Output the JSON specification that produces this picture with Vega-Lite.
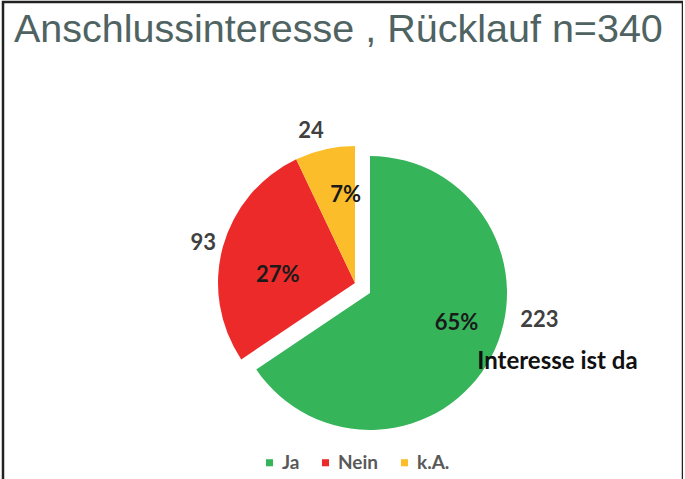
{
  "$schema": "https://vega.github.io/schema/vega-lite/v6.json",
  "autosize": {"type": "none"},
  "padding": {"left": 3, "top": 2, "right": 0, "bottom": 0},
  "width": 680,
  "height": 500,
  "background": "white",
  "title": {
    "text": "Anschlussinteresse , Rücklauf n=340",
    "anchor": "start",
    "frame": "group",
    "orient": "top",
    "font": "Liberation Sans",
    "fontSize": 39.5,
    "fontWeight": "normal",
    "color": "#4f6362",
    "baseline": "alphabetic",
    "offset": 0,
    "dx": 11,
    "dy": 81
  },
  "data": {
    "values": [
      {"Antwort": "Ja", "Anzahl": 223, "Prozent": "65%", "Kommentar": "Interesse ist da"},
      {"Antwort": "Nein", "Anzahl": 93, "Prozent": "27%", "Kommentar": ""},
      {"Antwort": "k.A.", "Anzahl": 24, "Prozent": "7%", "Kommentar": ""}
    ]
  },
  "transform": [
    {"stack": "Anzahl", "groupby": [], "as": ["start", "end"], "sort": [{"field": "Anzahl", "order": "descending"}]},
    {"calculate": "(datum.start + datum.end) / 2", "as": "mid"}
  ],
  "layer": [
    {
      "transform": [{"filter": "datum.Antwort === 'Ja'"}],
      "mark": {"type": "rect", "fill": "transparent", "stroke": "#222222", "strokeWidth": 2.5},
      "encoding": {}
    },
    {
      "transform": [{"filter": "datum.Antwort !== 'Ja'"}],
      "mark": {"type": "arc", "radius": 137, "xOffset": 12, "yOffset": 31},
      "encoding": {
        "theta": {"field": "start", "type": "quantitative", "scale": {"domain": [0, 340], "range": [0, 6.283185307179586]}},
        "theta2": {"field": "end"},
        "color": {
          "field": "Antwort", "type": "nominal",
          "scale": {"domain": ["Ja", "Nein", "k.A."], "range": ["#35b45a", "#ec2a2a", "#fbbd2a"]},
          "legend": {
            "title": null, "orient": "none", "direction": "horizontal",
            "legendX": 257, "legendY": 451,
            "symbolType": "square", "symbolSize": 50, "symbolStrokeWidth": 0,
            "labelFont": "Lato", "labelFontWeight": "bold", "labelFontSize": 19, "labelColor": "#595959",
            "labelOffset": 3, "columnPadding": 16, "padding": 0
          }
        }
      }
    },
    {
      "transform": [{"filter": "datum.Antwort === 'Ja'"}],
      "mark": {"type": "arc", "radius": 137, "xOffset": 27, "yOffset": 41},
      "encoding": {
        "theta": {"field": "start", "type": "quantitative", "scale": {"domain": [0, 340], "range": [0, 6.283185307179586]}},
        "theta2": {"field": "end"},
        "color": {"field": "Antwort", "type": "nominal", "scale": {"domain": ["Ja", "Nein", "k.A."], "range": ["#35b45a", "#ec2a2a", "#fbbd2a"]}}
      }
    },
    {
      "transform": [{"filter": "datum.Antwort === 'Ja'"}],
      "mark": {"type": "text", "radius": 90, "xOffset": 34, "yOffset": 29, "font": "Lato", "fontWeight": "bold", "fontSize": 22, "color": "#1a1a1a", "align": "center", "baseline": "middle"},
      "encoding": {
        "theta": {"field": "mid", "type": "quantitative", "scale": {"domain": [0, 340], "range": [0, 6.283185307179586]}},
        "text": {"field": "Prozent"}
      }
    },
    {
      "transform": [{"filter": "datum.Antwort === 'Nein'"}],
      "mark": {"type": "text", "radius": 76, "xOffset": 8, "yOffset": 43, "font": "Lato", "fontWeight": "bold", "fontSize": 22, "color": "#1a1a1a", "align": "center", "baseline": "middle"},
      "encoding": {
        "theta": {"field": "mid", "type": "quantitative", "scale": {"domain": [0, 340], "range": [0, 6.283185307179586]}},
        "text": {"field": "Prozent"}
      }
    },
    {
      "transform": [{"filter": "datum.Antwort === 'k.A.'"}],
      "mark": {"type": "text", "radius": 88, "xOffset": 22, "yOffset": 29, "font": "Lato", "fontWeight": "bold", "fontSize": 22, "color": "#1a1a1a", "align": "center", "baseline": "middle"},
      "encoding": {
        "theta": {"field": "mid", "type": "quantitative", "scale": {"domain": [0, 340], "range": [0, 6.283185307179586]}},
        "text": {"field": "Prozent"}
      }
    },
    {
      "transform": [{"filter": "datum.Antwort === 'Ja'"}],
      "mark": {"type": "text", "radius": 175, "xOffset": 42, "yOffset": -14, "font": "Lato", "fontWeight": "bold", "fontSize": 22, "color": "#404040", "align": "center", "baseline": "middle"},
      "encoding": {
        "theta": {"field": "mid", "type": "quantitative", "scale": {"domain": [0, 340], "range": [0, 6.283185307179586]}},
        "text": {"field": "Anzahl"}
      }
    },
    {
      "transform": [{"filter": "datum.Antwort === 'Nein'"}],
      "mark": {"type": "text", "radius": 150, "xOffset": 5, "yOffset": 31, "font": "Lato", "fontWeight": "bold", "fontSize": 22, "color": "#404040", "align": "center", "baseline": "middle"},
      "encoding": {
        "theta": {"field": "mid", "type": "quantitative", "scale": {"domain": [0, 340], "range": [0, 6.283185307179586]}},
        "text": {"field": "Anzahl"}
      }
    },
    {
      "transform": [{"filter": "datum.Antwort === 'k.A.'"}],
      "mark": {"type": "text", "radius": 155, "xOffset": 2, "yOffset": 30, "font": "Lato", "fontWeight": "bold", "fontSize": 22, "color": "#404040", "align": "center", "baseline": "middle"},
      "encoding": {
        "theta": {"field": "mid", "type": "quantitative", "scale": {"domain": [0, 340], "range": [0, 6.283185307179586]}},
        "text": {"field": "Anzahl"}
      }
    },
    {
      "transform": [{"filter": "datum.Antwort === 'Ja'"}],
      "mark": {"type": "text", "radius": 175, "xOffset": 60, "yOffset": 28, "font": "Lato", "fontWeight": "bold", "fontSize": 24, "color": "#111111", "align": "center", "baseline": "middle"},
      "encoding": {
        "theta": {"field": "mid", "type": "quantitative", "scale": {"domain": [0, 340], "range": [0, 6.283185307179586]}},
        "text": {"field": "Kommentar"}
      }
    }
  ],
  "config": {
    "view": {"stroke": null}
  }
}
